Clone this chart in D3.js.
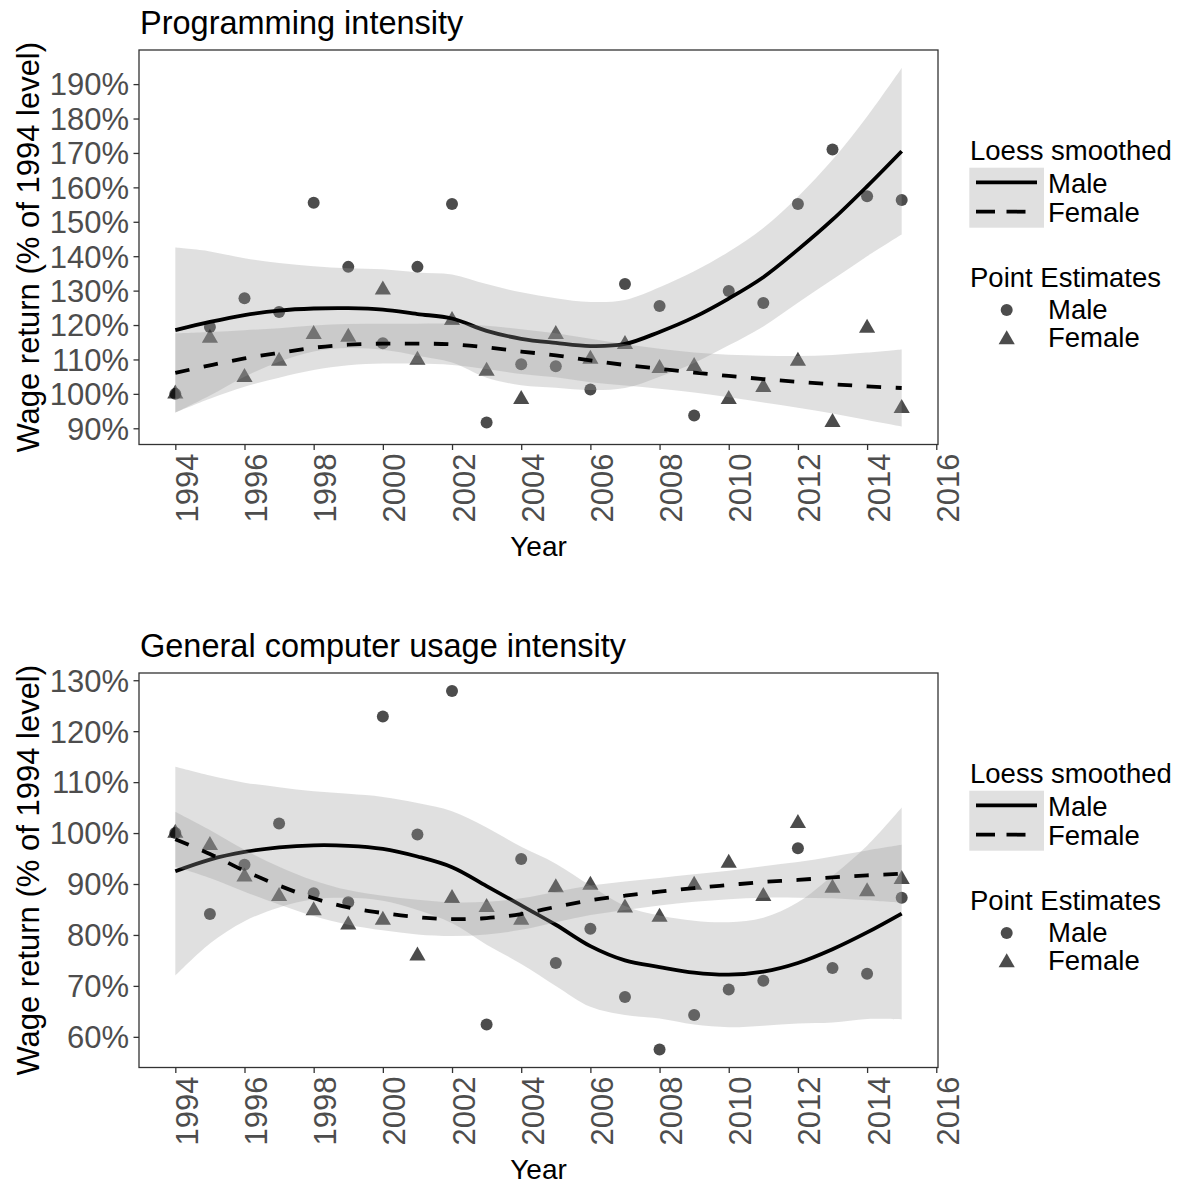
<!DOCTYPE html>
<html>
<head>
<meta charset="utf-8">
<script src="https://cdn.jsdelivr.net/npm/d3@7"></script>
<style>
  html, body { margin: 0; padding: 0; background: #ffffff; }
  svg { display: block; }
  text { font-family: "Liberation Sans", Arial, Helvetica, sans-serif; }
</style>
</head>
<body>
<svg id="chart" width="1180" height="1184"></svg>
<script>
// ---------------- DATA ----------------
const years = [1994,1995,1996,1997,1998,1999,2000,2001,2002,2003,2004,2005,2006,2007,2008,2009,2010,2011,2012,2013,2014,2015];
const xTickValues = [1994,1996,1998,2000,2002,2004,2006,2008,2010,2012,2014,2016];

// Panel 1: Programming intensity
const progTitle = "Programming intensity";
const progYTicks = [90,100,110,120,130,140,150,160,170,180,190];
const progMalePoints   = [100,119.4,127.8,123.8,155.5,136.9,114.7,136.9,155.2,91.7,108.6,108.0,101.3,131.9,125.5,93.7,129.9,126.4,155.2,171.0,157.4,156.3];
const progFemalePoints = [100,116.2,104.8,109.5,117.3,116.5,130.2,109.8,121.4,106.6,98.4,117.3,110.1,114.4,107.4,108.0,98.4,101.9,109.5,91.7,119.1,95.8];
const progMaleFit = [118.5,120.9,122.9,124.2,124.8,124.9,124.5,123.2,121.9,118.3,116.0,114.8,113.9,114.5,118.0,122.3,127.7,133.9,141.9,150.6,160.3,170.5];
const progMaleHi  = [142.5,141.4,139.4,138.0,137.1,136.5,136.2,135.3,134.7,131.9,129.5,127.8,126.7,127.3,131.0,135.6,141.3,148.2,157.3,168.0,180.6,194.7];
const progMaleLo  = [94.5,99.5,105.0,109.3,112.3,113.3,112.8,111.1,109.1,104.7,102.5,101.8,101.1,101.7,105.0,109.0,114.1,119.6,126.5,133.2,140.0,146.3];
const progFemaleFit = [106.1,108.3,110.3,111.9,113.4,114.3,114.6,114.6,114.4,113.5,112.3,111.2,109.7,108.4,107.3,106.2,105.2,104.3,103.5,102.8,102.2,101.7];
const progFemaleHi  = [117.6,118.0,118.5,119.1,119.9,120.3,120.4,120.4,120.4,119.8,118.8,117.6,116.0,114.4,113.1,112.0,111.4,111.1,111.0,111.3,112.0,112.9];
const progFemaleLo  = [94.6,98.6,102.1,104.7,106.9,108.3,108.8,108.8,108.4,107.2,105.8,104.8,103.4,102.4,101.5,100.4,99.0,97.5,96.0,94.3,92.4,90.5];

// Panel 2: General computer usage intensity
const compTitle = "General computer usage intensity";
const compYTicks = [60,70,80,90,100,110,120,130];
const compMalePoints   = [100,84.1,93.8,101.9,88.2,86.4,122.9,99.7,127.9,62.4,94.9,74.5,81.2,67.8,57.5,64.3,69.3,71.0,97.0,73.5,72.4,87.3];
const compFemalePoints = [100,97.6,91.4,87.6,84.8,82.0,82.9,75.9,87.2,85.4,82.9,89.3,89.8,85.3,83.5,89.8,94.1,87.6,101.9,89.2,88.5,90.9];
const compMaleFit = [92.5,94.8,96.3,97.2,97.6,97.5,96.9,95.4,93.3,89.6,85.8,82.0,77.8,75.0,73.7,72.6,72.2,72.8,74.5,77.2,80.5,84.2];
const compMaleHi  = [113.0,111.3,109.9,109.0,108.2,107.7,107.1,105.9,104.3,101.1,97.3,94.0,89.7,85.7,83.8,82.8,82.5,83.4,86.4,91.6,97.5,105.0];
const compMaleLo  = [72.0,78.3,82.7,85.4,87.0,87.3,86.7,84.9,82.3,78.1,74.3,70.0,65.9,64.3,63.6,62.4,61.9,62.2,62.6,62.8,63.5,63.4];
const compFemaleFit = [98.8,95.9,92.6,89.7,87.2,85.4,84.3,83.5,83.1,83.3,84.1,85.5,86.8,87.7,88.5,89.2,89.8,90.4,90.8,91.3,91.7,92.0];
const compFemaleHi  = [104.2,100.6,96.7,93.4,90.7,88.8,87.7,86.9,86.4,86.5,87.2,88.5,89.7,90.5,91.2,91.9,92.6,93.5,94.3,95.4,96.6,97.7];
const compFemaleLo  = [93.4,91.2,88.5,86.0,83.7,82.0,80.9,80.1,79.8,80.1,81.0,82.5,83.9,84.9,85.8,86.5,87.0,87.3,87.3,87.2,86.8,86.3];

const xAxisTitle = "Year";
const yAxisTitle = "Wage return (% of 1994 level)";
const legendSmoothTitle = "Loess smoothed";
const legendPointTitle = "Point Estimates";
const genders = ["Male", "Female"];

// ---------------- DRAWING ----------------
const svg = d3.select("#chart");
const FONT_TICK = 31, FONT_AXIS_Y = 31, FONT_AXIS_X = 28, FONT_TITLE = 32.5, FONT_LEGEND = 27.5;
const RIBBON_FILL = "#999999", RIBBON_OPACITY = 0.3;
const PT_R = 6;

function trianglePath(r) {
  const a = 1.555 * r, hx = 1.347 * r, b = 0.778 * r;
  return `M0,${-a}L${hx},${b}L${-hx},${b}Z`;
}

function drawPanel(cfg) {
  const top = cfg.top, bottom = cfg.top + 394.5, left = 139, right = 938;
  const xExt = d3.extent(years);
  const xPad = (xExt[1] - xExt[0]) * 0.05;
  const x = d3.scaleLinear().domain([xExt[0] - xPad, xExt[1] + xPad]).range([left, right]);
  const allY = [].concat(cfg.malePts, cfg.femalePts, cfg.maleHi, cfg.maleLo, cfg.femaleHi, cfg.femaleLo);
  const yExt = d3.extent(allY);
  const yPad = (yExt[1] - yExt[0]) * 0.05;
  const y = d3.scaleLinear().domain([yExt[0] - yPad, yExt[1] + yPad]).range([bottom, top]);

  const g = svg.append("g");

  // title
  g.append("text").attr("x", left + 1).attr("y", top - 16.5)
    .attr("font-size", FONT_TITLE).attr("fill", "#000").text(cfg.title);

  // clip
  const clipId = "clip" + cfg.top;
  svg.append("defs").append("clipPath").attr("id", clipId)
    .append("rect").attr("x", left).attr("y", top).attr("width", right - left).attr("height", bottom - top);
  const plot = g.append("g").attr("clip-path", `url(#${clipId})`);

  // points (drawn first, under ribbons)
  const pts = plot.append("g");
  pts.selectAll("circle.m").data(years).join("circle")
    .attr("cx", (d) => x(d)).attr("cy", (d, i) => y(cfg.malePts[i])).attr("r", PT_R)
    .attr("fill", "#000").attr("fill-opacity", 0.7);
  pts.selectAll("path.f").data(years).join("path")
    .attr("d", trianglePath(PT_R))
    .attr("transform", (d, i) => `translate(${x(d)},${y(cfg.femalePts[i])})`)
    .attr("fill", "#000").attr("fill-opacity", 0.7);

  const curve = d3.curveCatmullRom.alpha(0.5);
  const area = (lo, hi) => d3.area().curve(curve).x((d) => x(d)).y0((d, i) => y(lo[i])).y1((d, i) => y(hi[i]))(years);
  const line = (vals) => d3.line().curve(curve).x((d) => x(d)).y((d, i) => y(vals[i]))(years);

  // Male smooth
  plot.append("path").attr("d", area(cfg.maleLo, cfg.maleHi)).attr("fill", RIBBON_FILL).attr("fill-opacity", RIBBON_OPACITY);
  plot.append("path").attr("d", line(cfg.maleFit)).attr("fill", "none").attr("stroke", "#000").attr("stroke-width", 3.8);
  // Female smooth
  plot.append("path").attr("d", area(cfg.femaleLo, cfg.femaleHi)).attr("fill", RIBBON_FILL).attr("fill-opacity", RIBBON_OPACITY);
  plot.append("path").attr("d", line(cfg.femaleFit)).attr("fill", "none").attr("stroke", "#000").attr("stroke-width", 3.8)
    .attr("stroke-dasharray", "14.5,14.5");

  // border
  g.append("rect").attr("x", left).attr("y", top).attr("width", right - left).attr("height", bottom - top)
    .attr("fill", "none").attr("stroke", "#333333").attr("stroke-width", 1.3);

  // y axis
  const yAxis = g.append("g").attr("transform", `translate(${left},0)`)
    .call(d3.axisLeft(y).tickValues(cfg.yTicks).tickSize(5.5).tickPadding(4.5).tickFormat((d) => d + "%"));
  yAxis.select(".domain").remove();
  yAxis.selectAll(".tick line").attr("stroke", "#333333").attr("stroke-width", 1.3);
  yAxis.selectAll(".tick text").attr("font-size", FONT_TICK).attr("fill", "#4d4d4d")
    .attr("font-family", null).attr("dy", "0.35em");
  yAxis.attr("font-family", null);

  // x axis
  const xAxis = g.append("g").attr("transform", `translate(0,${bottom})`)
    .call(d3.axisBottom(x).tickValues(xTickValues).tickSize(5.5).tickFormat(d3.format("d")));
  xAxis.select(".domain").remove();
  xAxis.attr("font-family", null);
  xAxis.selectAll(".tick line").attr("stroke", "#333333").attr("stroke-width", 1.3);
  xAxis.selectAll(".tick text").attr("font-size", FONT_TICK).attr("fill", "#4d4d4d")
    .attr("transform", "rotate(-90)").attr("x", -9).attr("y", 22).attr("dy", 0)
    .attr("text-anchor", "end");

  // axis titles
  g.append("text").attr("x", (left + right) / 2).attr("y", bottom + 111)
    .attr("text-anchor", "middle").attr("font-size", FONT_AXIS_X).attr("fill", "#000").text(xAxisTitle);
  g.append("text").attr("transform", `translate(39,${(top + bottom) / 2}) rotate(-90)`)
    .attr("text-anchor", "middle").attr("font-size", FONT_AXIS_Y).attr("fill", "#000").text(yAxisTitle);

  // legend
  const lg = g.append("g").attr("transform", `translate(0,${top - 50})`);
  lg.append("text").attr("x", 970).attr("y", 160).attr("font-size", FONT_LEGEND).attr("fill", "#000").text(legendSmoothTitle);
  lg.append("rect").attr("x", 969.3).attr("y", 167.7).attr("width", 74.7).attr("height", 60).attr("fill", "#e0e0e0");
  lg.append("line").attr("x1", 976).attr("x2", 1037).attr("y1", 182.3).attr("y2", 182.3)
    .attr("stroke", "#000").attr("stroke-width", 3.8);
  lg.append("line").attr("x1", 976).attr("x2", 1037).attr("y1", 211.7).attr("y2", 211.7)
    .attr("stroke", "#000").attr("stroke-width", 3.8).attr("stroke-dasharray", "19,11.5");
  lg.append("text").attr("x", 1048).attr("y", 193.3).attr("font-size", FONT_LEGEND).text(genders[0]);
  lg.append("text").attr("x", 1048).attr("y", 222.3).attr("font-size", FONT_LEGEND).text(genders[1]);
  lg.append("text").attr("x", 970).attr("y", 286.7).attr("font-size", FONT_LEGEND).attr("fill", "#000").text(legendPointTitle);
  lg.append("circle").attr("cx", 1006.7).attr("cy", 310).attr("r", PT_R).attr("fill", "#000").attr("fill-opacity", 0.7);
  lg.append("path").attr("d", trianglePath(PT_R)).attr("transform", "translate(1006.7,339.5)")
    .attr("fill", "#000").attr("fill-opacity", 0.7);
  lg.append("text").attr("x", 1048).attr("y", 319).attr("font-size", FONT_LEGEND).text(genders[0]);
  lg.append("text").attr("x", 1048).attr("y", 347.3).attr("font-size", FONT_LEGEND).text(genders[1]);
}

drawPanel({
  top: 50, title: progTitle, yTicks: progYTicks,
  malePts: progMalePoints, femalePts: progFemalePoints,
  maleFit: progMaleFit, maleHi: progMaleHi, maleLo: progMaleLo,
  femaleFit: progFemaleFit, femaleHi: progFemaleHi, femaleLo: progFemaleLo
});
drawPanel({
  top: 673, title: compTitle, yTicks: compYTicks,
  malePts: compMalePoints, femalePts: compFemalePoints,
  maleFit: compMaleFit, maleHi: compMaleHi, maleLo: compMaleLo,
  femaleFit: compFemaleFit, femaleHi: compFemaleHi, femaleLo: compFemaleLo
});
</script>
</body>
</html>
